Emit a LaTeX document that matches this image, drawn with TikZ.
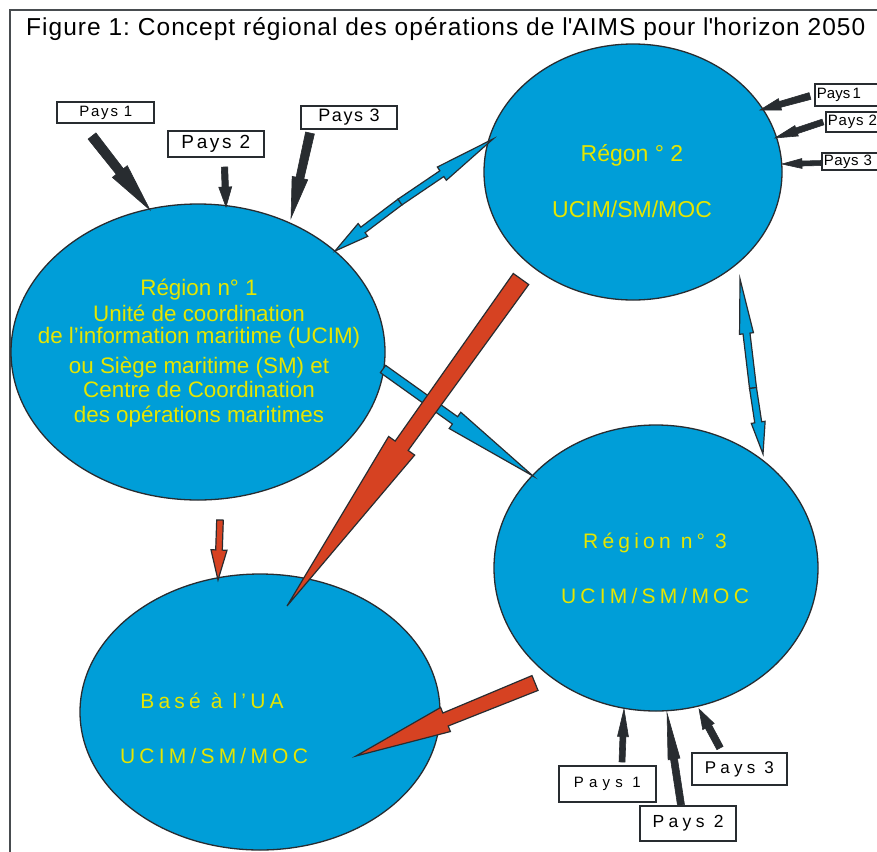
\documentclass[tikz,border=0pt]{standalone}
\usepackage{fontspec}
\setmainfont{Liberation Sans}
\usetikzlibrary{calc,shapes.geometric}
\frenchspacing
\definecolor{sea}{RGB}{0,158,216}
\definecolor{yel}{RGB}{230,230,0}
\definecolor{boltred}{RGB}{214,66,34}
\definecolor{ink}{RGB}{40,44,48}
\newcommand{\lbolt}[7]{%
  \coordinate (lbM) at ($(#2)!#7!(#3)$);
  \filldraw[#1] ($(#2)!#4!90:(#3)$) -- ($(lbM)!#5!90:(#3)$) -- ($(lbM)!#6!90:(#3)$) -- (#3)
    -- ($(lbM)!#6!-90:(#3)$) -- ($(lbM)!#5!-90:(#3)$) -- ($(#2)!#4!-90:(#3)$) -- cycle;}
\tikzset{
  region/.style={ellipse, draw=ink, line width=1.3pt, fill=sea, inner sep=0pt},
  paysbox/.style={draw=ink, line width=1.8pt, fill=white, inner sep=0pt},
  rightbox/.style={paysbox, anchor=west, text width=60pt, align=left, inner xsep=2pt},
  darkbolt/.style={fill=ink, draw=ink, line width=0.6pt},
  bluebolt/.style={fill=sea, draw=ink, line width=1.2pt},
  redbolt/.style={fill=boltred, draw=ink, line width=1.2pt},
  rtext/.style={text=yel, align=center, inner sep=0pt},
}
\begin{document}
\begin{tikzpicture}[x=1pt,y=-1pt]
\useasboundingbox (0,0) rectangle (877,851);
\clip (0,0) rectangle (877,851);
\fill[white] (0,0) rectangle (877,851);
\draw[ink!85, line width=1.8pt] (10,860) -- (10,10) -- (890,10);
\node[anchor=base west, inner sep=0pt, font=\fontsize{24.5}{28}\selectfont\addfontfeature{LetterSpace=4.2}] (title) at (26,36)
  {Figure 1: Concept régional des opérations de l\textquotesingle AIMS pour l\textquotesingle horizon 2050};

% regions
\node[region, minimum width=374pt, minimum height=296pt] (r1) at (198,352) {};
\node[region, minimum width=298pt, minimum height=256pt] (r2) at (633,172) {};
\node[region, minimum width=324pt, minimum height=286pt] (r3) at (656,568) {};
\node[region, minimum width=360pt, minimum height=276pt] (ua) at (260,712) {};

\node[rtext, font=\fontsize{22.4}{25}\selectfont] (r1t) at (199,353)
  {Région n° 1\\[1pt]Unité de coordination\\[-3pt]de l’information maritime (UCIM)\\[5pt]ou Siège maritime (SM) et\\[-1pt]Centre de Coordination\\des opérations maritimes};
\node[rtext, font=\fontsize{23}{26}\selectfont] (r2a) at (632,155) {Régon ° 2};
\node[rtext, font=\fontsize{23}{26}\selectfont] (r2b) at (632,209) {UCIM/SM/MOC};
\node[rtext, font=\fontsize{21}{26}\selectfont\addfontfeature{LetterSpace=20}] (r3a) at (655,543) {Région n° 3};
\node[rtext, font=\fontsize{21}{26}\selectfont\addfontfeature{LetterSpace=20}] (r3b) at (655,596) {UCIM/SM/MOC};
\node[rtext, font=\fontsize{21}{26}\selectfont\addfontfeature{LetterSpace=20}] (uaa) at (212,701) {Basé à l’UA};
\node[rtext, font=\fontsize{21}{26}\selectfont\addfontfeature{LetterSpace=20}] (uab) at (214,756) {UCIM/SM/MOC};

% Pays boxes
\node[paysbox, minimum width=97pt, minimum height=21.6pt, font=\fontsize{15}{18}\selectfont\addfontfeature{LetterSpace=12}] (tp1) at (105.8,112.5) {Pays 1};
\node[paysbox, minimum width=96.3pt, minimum height=26pt, font=\fontsize{19}{22}\selectfont\addfontfeature{LetterSpace=14}] (tp2) at (215.8,143.7) {Pays 2};
\node[paysbox, minimum width=96.6pt, minimum height=23.6pt, font=\fontsize{18}{21}\selectfont\addfontfeature{LetterSpace=9}] (tp3) at (349,117.5) {Pays 3};
\node[rightbox, minimum height=22pt, font=\fontsize{15}{18}\selectfont] (rp1) at (814,95) {Pays\,1};
\node[rightbox, minimum height=20pt, font=\fontsize{15}{18}\selectfont\addfontfeature{LetterSpace=5}] (rp2) at (825,122) {Pays 2};
\node[rightbox, minimum height=17pt, font=\fontsize{15}{18}\selectfont\addfontfeature{LetterSpace=3}] (rp3) at (821,161.5) {Pays 3};
\node[paysbox, minimum width=96.7pt, minimum height=35.7pt, font=\fontsize{15}{18}\selectfont\addfontfeature{LetterSpace=35}] (bp1) at (607.3,783.8) {Pays 1};
\node[paysbox, minimum width=96pt, minimum height=35.3pt, font=\fontsize{17.5}{20}\selectfont\addfontfeature{LetterSpace=25}] (bp2) at (688,823.3) {Pays 2};
\node[paysbox, minimum width=94.7pt, minimum height=32pt, font=\fontsize{17}{20}\selectfont\addfontfeature{LetterSpace=25}] (bp3) at (739.3,769) {Pays 3};

% connector end points
\coordinate (a1t) at (92,136);   \coordinate (a1h) at (150,210);
\coordinate (a2t) at (224.5,167);\coordinate (a2h) at (226,207);
\coordinate (a3t) at (310,133);  \coordinate (a3h) at (291,218);
\coordinate (b1t) at (810,96);   \coordinate (b1h) at (760,110);
\coordinate (b2t) at (823,122);  \coordinate (b2h) at (775,138);
\coordinate (b3t) at (822,163);  \coordinate (b3h) at (782,164);
\coordinate (c1t) at (622,762);  \coordinate (c1h) at (624,709);
\coordinate (c2t) at (681,805);  \coordinate (c2h) at (667,713);
\coordinate (c3t) at (720,748);  \coordinate (c3h) at (699,709);
\coordinate (m12) at (400,202);  \coordinate (e12a) at (335,251); \coordinate (e12b) at (493,139);
\coordinate (m23) at (753,388);  \coordinate (e23a) at (740,279); \coordinate (e23b) at (763,454);
\coordinate (s13) at (383,369);  \coordinate (t13) at (533,476);
\coordinate (s2u) at (521,279);  \coordinate (t2u) at (287,606);
\coordinate (s1u) at (220,520);  \coordinate (t1u) at (218,580);
\coordinate (s3u) at (535,683);  \coordinate (t3u) at (356,756);

% dark arrows from the countries
\lbolt{darkbolt}{a1t}{a1h}{5pt}{4.5pt}{9.5pt}{.48}
\lbolt{darkbolt}{a2t}{a2h}{3.2pt}{3.2pt}{6.5pt}{.5}
\lbolt{darkbolt}{a3t}{a3h}{4.5pt}{4pt}{8pt}{.53}
\lbolt{darkbolt}{b1t}{b1h}{3.5pt}{3pt}{6pt}{.6}
\lbolt{darkbolt}{b2t}{b2h}{3pt}{3pt}{5.5pt}{.55}
\lbolt{darkbolt}{b3t}{b3h}{2.5pt}{2.5pt}{5pt}{.5}
\lbolt{darkbolt}{c1t}{c1h}{3pt}{3pt}{5.5pt}{.48}
\lbolt{darkbolt}{c2t}{c2h}{3.5pt}{3.5pt}{6pt}{.5}
\lbolt{darkbolt}{c3t}{c3h}{3.5pt}{3.5pt}{6.5pt}{.55}

% blue links
\lbolt{bluebolt}{m12}{e12a}{3.5pt}{3.5pt}{8pt}{.57}
\lbolt{bluebolt}{m12}{e12b}{3.5pt}{3.5pt}{8pt}{.45}
\lbolt{bluebolt}{m23}{e23a}{3.5pt}{3.5pt}{7pt}{.5}
\lbolt{bluebolt}{m23}{e23b}{3.5pt}{3.5pt}{7pt}{.52}
\lbolt{bluebolt}{s13}{t13}{4.5pt}{4.5pt}{10pt}{.48}

% red links
\lbolt{redbolt}{s2u}{t2u}{9.5pt}{8pt}{16pt}{.51}
\lbolt{redbolt}{s1u}{t1u}{3.3pt}{3.3pt}{8pt}{.5}
\lbolt{redbolt}{s3u}{t3u}{8pt}{7pt}{13pt}{.5}
\end{tikzpicture}
\end{document}
